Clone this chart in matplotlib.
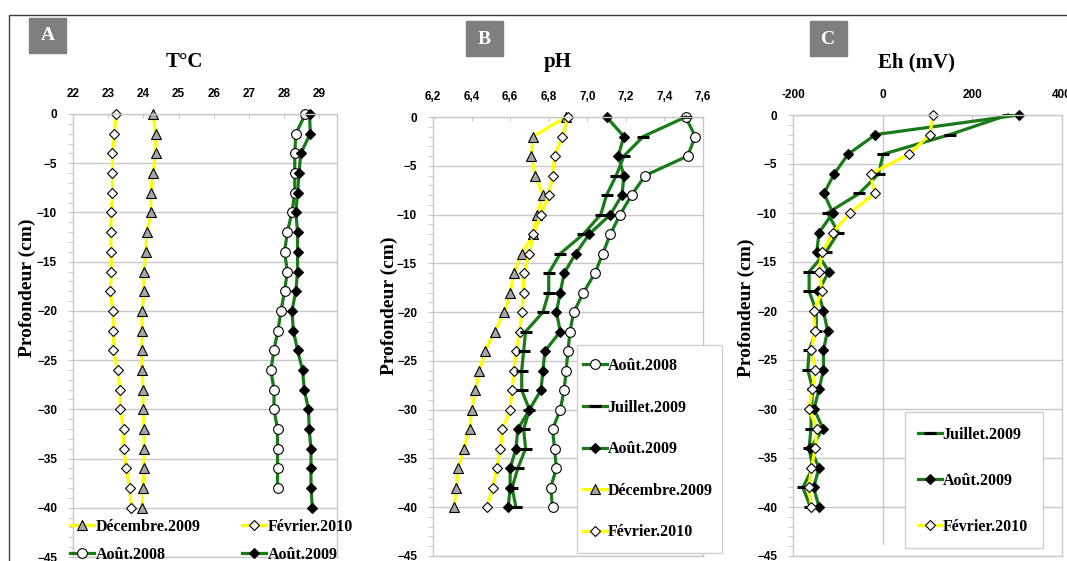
import numpy as np
import matplotlib
matplotlib.use("Agg")
import matplotlib.pyplot as plt
from matplotlib.patches import Rectangle
from matplotlib.ticker import MultipleLocator, FixedLocator, FuncFormatter

# profondeur (cm)
depth = [0, -2, -4, -6, -8, -10, -12, -14, -16, -18, -20,
         -22, -24, -26, -28, -30, -32, -34, -36, -38, -40]

# --- A : temperature
t_dec2009 = [24.27, 24.35, 24.35, 24.27, 24.21, 24.21, 24.10, 24.07, 24.01, 24.02, 23.96,
             23.96, 23.96, 23.96, 23.99, 23.99, 24.02, 24.02, 24.02, 23.99, 23.96]
t_fev2010 = [23.23, 23.17, 23.12, 23.12, 23.12, 23.09, 23.07, 23.08, 23.09, 23.06, 23.13,
             23.15, 23.14, 23.27, 23.34, 23.34, 23.44, 23.44, 23.51, 23.61, 23.66]
t_aout2008 = [28.60, 28.33, 28.30, 28.30, 28.30, 28.22, 28.09, 28.01, 28.09, 28.01, 27.91,
              27.82, 27.71, 27.62, 27.71, 27.71, 27.81, 27.81, 27.81, 27.81]
t_aout2009 = [28.72, 28.74, 28.47, 28.42, 28.38, 28.33, 28.38, 28.38, 28.38, 28.33, 28.22,
              28.26, 28.38, 28.52, 28.57, 28.69, 28.71, 28.76, 28.76, 28.76, 28.80]

# --- B : pH
ph_aout2008 = [7.51, 7.56, 7.52, 7.30, 7.23, 7.17, 7.12, 7.08, 7.04, 6.98, 6.93,
               6.91, 6.90, 6.89, 6.88, 6.86, 6.82, 6.83, 6.84, 6.81, 6.82]
ph_juil2009 = [7.51, 7.29, 7.19, 7.15, 7.10, 7.07, 6.98, 6.86, 6.80, 6.80, 6.77,
               6.68, 6.67, 6.66, 6.66, 6.70, 6.67, 6.68, 6.64, 6.61, 6.63]
ph_aout2009 = [7.10, 7.19, 7.16, 7.19, 7.18, 7.12, 7.01, 6.94, 6.88, 6.86, 6.84,
               6.86, 6.78, 6.77, 6.76, 6.70, 6.64, 6.63, 6.60, 6.60, 6.59]
ph_dec2009 = [6.89, 6.72, 6.71, 6.73, 6.77, 6.74, 6.72, 6.66, 6.62, 6.60, 6.57,
              6.52, 6.47, 6.44, 6.42, 6.40, 6.39, 6.36, 6.33, 6.32, 6.31]
ph_fev2010 = [6.90, 6.87, 6.83, 6.82, 6.80, 6.76, 6.72, 6.70, 6.67, 6.67, 6.66,
              6.65, 6.63, 6.62, 6.61, 6.60, 6.56, 6.55, 6.53, 6.51, 6.48]

# --- C : Eh (mV)
eh_juil2009 = [279, 150, 1, -9, -52, -123, -99, -127, -164, -164, -148,
               -148, -164, -167, -156, -159, -160, -164, -156, -178, -161]
eh_aout2009 = [304, -16, -77, -108, -131, -111, -142, -147, -120, -144, -132,
               -123, -132, -132, -142, -153, -133, -161, -142, -154, -142]
eh_fev2010 = [113, 105, 59, -27, -18, -73, -111, -135, -142, -135, -154,
              -151, -159, -150, -157, -164, -147, -150, -159, -164, -159]

W, H = 1067, 561
GREEN = "#1a7a1a"
YELLOW = "#ffff00"
GRID = "#c8c8c8"
SERIF = "Liberation Serif"
SANS = "Liberation Sans"
LEG_FONT = dict(family=SERIF, weight="bold", size=11.5)

fig = plt.figure(figsize=(W / 100, H / 100), dpi=100)


def px_axes(left, top, right, bottom):
    return fig.add_axes([left / W, 1 - bottom / H, (right - left) / W, (bottom - top) / H])


def px_box(left, top, right, bottom, **kw):
    fig.patches.append(Rectangle((left / W, 1 - bottom / H), (right - left) / W,
                                 (bottom - top) / H, transform=fig.transFigure, **kw))


def style(ax, xlim, xticks, fmt):
    ax.set_xlim(*xlim)
    ax.set_ylim(-45, 0)
    ax.xaxis.tick_top()
    ax.xaxis.set_major_locator(FixedLocator(xticks))
    ax.xaxis.set_major_formatter(FuncFormatter(fmt))
    ax.yaxis.set_major_locator(MultipleLocator(5))
    ax.yaxis.set_minor_locator(MultipleLocator(1))
    ax.tick_params(axis="x", which="both", direction="in", length=3, color=GRID, pad=10,
                   labelsize=8.5)
    ax.tick_params(axis="y", which="both", direction="out", length=3.5, color=GRID, pad=8,
                   labelsize=8.5)
    for lab in ax.get_xticklabels() + ax.get_yticklabels():
        lab.set_fontweight("bold")
        lab.set_family(SANS)
    ax.grid(axis="y", color=GRID, lw=1)
    for s in ax.spines.values():
        s.set_color(GRID)
        s.set_linewidth(1)
    ax.set_axisbelow(True)


def line(ax, x, y, color, marker, face, label, ms=6.5):
    kw = dict(color=color, lw=2.3, marker=marker, mfc=face, mec="black", ms=ms, mew=0.8,
              label=label, clip_on=False)
    if marker == "_":
        kw.update(ms=8, mew=2.2)
    return ax.plot(x, y, **kw)[0]


# ---------------- A
axA = px_axes(73, 114, 337, 557)
style(axA, (22, 29.5), [22, 23, 24, 25, 26, 27, 28, 29], lambda v, p: f"{v:.0f}")
hA1 = line(axA, t_dec2009, depth, YELLOW, "^", "#a6a6a6", "Décembre.2009", ms=7.5)
hA2 = line(axA, t_fev2010, depth, YELLOW, "D", "white", "Février.2010", ms=5.5)
hA3 = line(axA, t_aout2008, depth[:20], GREEN, "o", "white", "Août.2008", ms=7)
hA4 = line(axA, t_aout2009, depth, GREEN, "D", "black", "Août.2009", ms=5.5)
fig.legend(handles=[hA1, hA3, hA2, hA4], ncol=2, frameon=False,
           loc="upper left", bbox_to_anchor=(70 / W, 1 - 519 / H), prop=LEG_FONT,
           handlelength=1.5, handletextpad=0.1, columnspacing=2.6,
           labelspacing=0.75, borderpad=0, borderaxespad=0)

# ---------------- B
axB = px_axes(433, 117, 703, 556)
style(axB, (6.2, 7.6), [6.2, 6.4, 6.6, 6.8, 7.0, 7.2, 7.4, 7.6],
      lambda v, p: f"{v:.1f}".replace(".", ","))
hB4 = line(axB, ph_dec2009, depth, YELLOW, "^", "#a6a6a6", "Décembre.2009", ms=7.5)
hB5 = line(axB, ph_fev2010, depth, YELLOW, "D", "white", "Février.2010", ms=5.5)
hB1 = line(axB, ph_aout2008, depth, GREEN, "o", "white", "Août.2008", ms=7)
hB2 = line(axB, ph_juil2009, depth, GREEN, "_", "black", "Juillet.2009")
hB3 = line(axB, ph_aout2009, depth, GREEN, "D", "black", "Août.2009", ms=5.5)
px_box(577, 345, 722, 553, facecolor="white", edgecolor="#d0d0d0", lw=1)
fig.legend(handles=[hB1, hB2, hB3, hB4, hB5], loc="upper left", frameon=False,
           bbox_to_anchor=(583 / W, 1 - 358 / H), prop=LEG_FONT,
           handlelength=1.5, handletextpad=0.05, labelspacing=1.6,
           borderpad=0, borderaxespad=0)

# ---------------- C
axC = px_axes(793, 115, 1062, 556)
style(axC, (-200, 400), [-200, 0, 200, 400], lambda v, p: f"{v:.0f}")
axC.axvline(0, ymin=0.027, ymax=1, color=GRID, lw=1, zorder=1)
hC1 = line(axC, eh_juil2009, depth, GREEN, "_", "black", "Juillet.2009")
hC2 = line(axC, eh_aout2009, depth, GREEN, "D", "black", "Août.2009", ms=5.5)
hC3 = line(axC, eh_fev2010, depth, YELLOW, "D", "white", "Février.2010", ms=5.5)
px_box(905, 412, 1043, 548, facecolor="white", edgecolor="#d0d0d0", lw=1)
fig.legend(handles=[hC1, hC2, hC3], loc="upper left", frameon=False,
           bbox_to_anchor=(918 / W, 1 - 427 / H), prop=LEG_FONT,
           handlelength=1.5, handletextpad=0.05, labelspacing=1.88,
           borderpad=0, borderaxespad=0)

# titles, y labels, panel letters
for xc, title in [(184, "T°C"), (558, "pH"), (917, "Eh (mV)")]:
    fig.text(xc / W, 1 - 62 / H, title, ha="center", va="center",
             family=SERIF, weight="bold", size=15)
for xc, yc in [(27, 288), (389, 306), (746, 308)]:
    fig.text(xc / W, 1 - yc / H, "Profondeur (cm)", rotation=90, ha="center", va="center",
             family=SERIF, weight="bold", size=14)
for x0, y0, letter in [(29, 18, "A"), (466, 21, "B"), (810, 21, "C")]:
    px_box(x0, y0, x0 + 37, y0 + 35, color="#7f7f7f")
    fig.text((x0 + 18.5) / W, 1 - (y0 + 18) / H, letter, ha="center", va="center",
             family=SERIF, weight="bold", size=14, color="white")

# outer frame
fig.patches.append(Rectangle((9 / W, -0.05), 1.1, 1 - 15 / H + 0.05,
                             transform=fig.transFigure, fill=False,
                             edgecolor="#404040", lw=1))

fig.savefig("out.png", dpi=100)
